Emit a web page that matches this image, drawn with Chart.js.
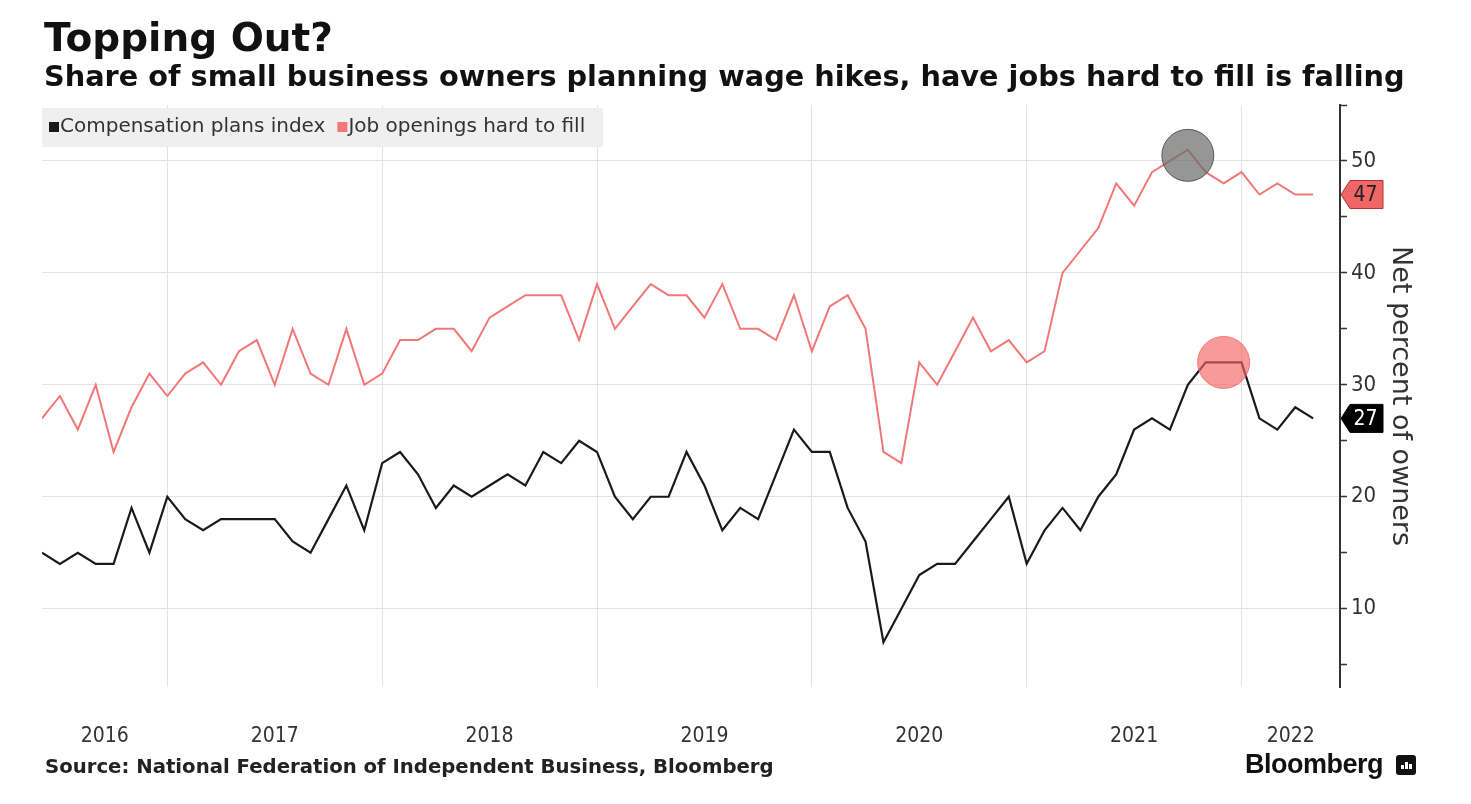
<!DOCTYPE html>
<html><head><meta charset="utf-8">
<script src="https://cdn.jsdelivr.net/npm/chart.js@4/dist/chart.umd.min.js"></script>
<style>
html,body{margin:0;padding:0;background:#fff;}
#wrap{position:relative;width:1471px;height:804px;overflow:hidden;background:#fff;}
canvas{position:absolute;left:0;top:0;}
.t{position:absolute;white-space:nowrap;color:#111;font-family:"DejaVu Sans",sans-serif;font-weight:bold;line-height:1;}
#title{left:44px;top:18px;font-size:39px;}
#sub{left:44px;top:62px;font-size:28.75px;}
#src{left:45px;top:757px;font-size:19.7px;color:#222;}
#bbg{left:1245px;top:751px;font-size:27px;font-family:"Liberation Sans",Arial,sans-serif;color:#111;letter-spacing:-0.5px;}
#icon{position:absolute;left:1396px;top:755px;width:20px;height:20px;background:#111;border-radius:3px;}
#icon i{position:absolute;bottom:6px;width:3px;background:#fff;}
</style>
</head><body>
<div id="wrap">
<canvas id="c" width="1471" height="804"></canvas>
<div class="t" id="title">Topping Out?</div>
<div class="t" id="sub">Share of small business owners planning wage hikes, have jobs hard to fill is falling</div>
<div class="t" id="src">Source: National Federation of Independent Business, Bloomberg</div>
<div class="t" id="bbg">Bloomberg</div>
<div id="icon"><i style="left:5px;height:4px"></i><i style="left:9px;height:7px"></i><i style="left:13px;height:5px"></i></div>
</div>
<script>
const months = [
 "Jun 2016","Jul 2016","Aug 2016","Sep 2016","Oct 2016","Nov 2016","Dec 2016",
 "Jan 2017","Feb 2017","Mar 2017","Apr 2017","May 2017","Jun 2017","Jul 2017","Aug 2017","Sep 2017","Oct 2017","Nov 2017","Dec 2017",
 "Jan 2018","Feb 2018","Mar 2018","Apr 2018","May 2018","Jun 2018","Jul 2018","Aug 2018","Sep 2018","Oct 2018","Nov 2018","Dec 2018",
 "Jan 2019","Feb 2019","Mar 2019","Apr 2019","May 2019","Jun 2019","Jul 2019","Aug 2019","Sep 2019","Oct 2019","Nov 2019","Dec 2019",
 "Jan 2020","Feb 2020","Mar 2020","Apr 2020","May 2020","Jun 2020","Jul 2020","Aug 2020","Sep 2020","Oct 2020","Nov 2020","Dec 2020",
 "Jan 2021","Feb 2021","Mar 2021","Apr 2021","May 2021","Jun 2021","Jul 2021","Aug 2021","Sep 2021","Oct 2021","Nov 2021","Dec 2021",
 "Jan 2022","Feb 2022","Mar 2022","Apr 2022","May 2022"
];
const compensationPlans = [
 15,14,15,14,14,19,15,
 20,18,17,18,18,18,18,16,15,18,21,17,
 23,24,22,19,21,20,21,22,21,24,23,25,
 24,20,18,20,20,24,21,17,19,18,22,26,
 24,24,19,16,7,10,13,14,14,16,18,20,
 14,17,19,17,20,22,26,27,26,30,32,32,
 32,27,26,28,27
];
const hardToFill = [
 27,29,26,30,24,28,31,
 29,31,32,30,33,34,30,35,31,30,35,30,
 31,34,34,35,35,33,36,37,38,38,38,34,
 39,35,37,39,38,38,36,39,35,35,34,38,
 33,37,38,35,24,23,32,30,33,36,33,34,
 32,33,40,42,44,48,46,49,50,51,49,48,
 49,47,48,47,47
];
const seriesNames = ["Compensation plans index","Job openings hard to fill"];
const markerMonths = ["Oct 2021","Dec 2021"];
const markerValues = [50.5, 32];
const yTicks = [5,10,15,20,25,30,35,40,45,50,55];
const yAxisTitle = "Net percent of owners";

const FONT = '"DejaVu Sans Condensed","DejaVu Sans",sans-serif';
const FONT_N = '"DejaVu Sans",sans-serif';
const RED = '#f27777';
const BLACK = '#1a1a1a';

// year boundaries (January) -> gridlines; year labels centred between them
const gridVals = [];
months.forEach((m,i)=>{ if (m.startsWith('Jan')) gridVals.push(i); });
const xMax = months.length + 0.5;
const bounds = [0, ...gridVals, xMax];
const labelVals = [], labelText = {};
for (let k=0;k<bounds.length-1;k++){
  const mid = (bounds[k]+bounds[k+1])/2;
  const i0 = Math.min(Math.ceil(bounds[k]), months.length-1);
  labelVals.push(mid); labelText[mid] = months[i0].slice(-4);
}
const gridSet = new Set(gridVals);
const xTickVals = [...gridVals, ...labelVals].sort((a,b)=>a-b);

const pts = arr => arr.map((v,i)=>({x:i,y:v}));

const overlay = {
  id:'overlay',
  beforeDatasetsDraw(chart){
    const c = chart.ctx; c.save();
    c.fillStyle = '#efefef';
    c.fillRect(42,108,561,39);
    c.font = '20px ' + FONT_N; c.textBaseline='middle';
    let x = 49; const y = 127;
    [[BLACK,seriesNames[0]],[RED,seriesNames[1]]].forEach(([col,txt])=>{
      c.fillStyle = col; c.fillRect(x, y-5, 10, 10);
      c.fillStyle = '#333'; c.fillText(txt, x+11, y);
      x += 11 + c.measureText(txt).width + 12;
    });
    c.restore();
  },
  afterDraw(chart){
    const c = chart.ctx, ys = chart.scales.y, ca = chart.chartArea;
    const tag = (val, fill, stroke, tc) => {
      const y = ys.getPixelForValue(val), x = ca.right + 1, h = 28, tip = 9, w = 33;
      c.save();
      c.beginPath(); c.moveTo(x,y); c.lineTo(x+tip,y-h/2); c.lineTo(x+tip+w,y-h/2);
      c.lineTo(x+tip+w,y+h/2); c.lineTo(x+tip,y+h/2); c.closePath();
      c.fillStyle = fill; c.fill(); c.lineWidth=1; c.strokeStyle = stroke; c.stroke();
      c.fillStyle = tc; c.font = '21px ' + FONT; c.textAlign='center'; c.textBaseline='middle';
      c.fillText(String(val), x+tip+w/2-1, y+1);
      c.restore();
    };
    tag(hardToFill[hardToFill.length-1], '#f06666', '#a33', '#222');
    tag(compensationPlans[compensationPlans.length-1], '#000', '#000', '#fff');
  }
};

new Chart(document.getElementById('c'), {
  type:'line',
  data:{ datasets:[
    { label:'peak-hard', data:[{x:months.indexOf(markerMonths[0]), y:markerValues[0]}], showLine:false,
      pointRadius:26, pointHoverRadius:26, backgroundColor:'rgba(110,110,110,0.72)', borderColor:'rgba(70,70,70,0.85)', borderWidth:1, order:1 },
    { label:'peak-comp', data:[{x:months.indexOf(markerMonths[1]), y:markerValues[1]}], showLine:false,
      pointRadius:26, pointHoverRadius:26, backgroundColor:'rgba(245,100,100,0.65)', borderColor:'rgba(240,100,100,0.8)', borderWidth:1, order:1 },
    { label:seriesNames[0], data:pts(compensationPlans), borderColor:BLACK, borderWidth:2.2, pointRadius:0, tension:0, order:2 },
    { label:seriesNames[1], data:pts(hardToFill), borderColor:RED, borderWidth:2, pointRadius:0, tension:0, order:3 }
  ]},
  options:{
    responsive:false, animation:false, devicePixelRatio:1,
    layout:{ padding:{left:42, top:105, right:0, bottom:0}, autoPadding:false },
    plugins:{ legend:{display:false}, tooltip:{enabled:false}, title:{display:false} },
    scales:{
      x:{ type:'linear', position:'bottom', min:0, max:xMax,
        afterBuildTicks: s => { s.ticks = xTickVals.map(v=>({value:v})); },
        ticks:{ autoSkip:false, maxRotation:0, padding:37, color:'#333', font:{family:FONT, size:21},
          callback:(v)=> labelText[v] !== undefined ? labelText[v] : '' },
        grid:{ drawTicks:false, lineWidth:1, color: ctx => (ctx.tick && gridSet.has(ctx.tick.value)) ? '#e3e3e3' : 'rgba(0,0,0,0)' },
        border:{ display:false },
        afterFit: s => { s.height = 117; }
      },
      y:{ type:'linear', position:'right', min:3, max:55,
        afterBuildTicks: s => { s.ticks = yTicks.map(v=>({value:v})); },
        ticks:{ padding:4, color:'#333', font:{family:FONT, size:22}, callback: v => (v % 10 === 0) ? String(v) : '' },
        grid:{ drawTicks:true, tickLength:7, tickColor:'#333', tickWidth:1.5, lineWidth:1,
          color: ctx => (ctx.tick && ctx.tick.value % 10 === 0) ? '#e3e3e3' : 'rgba(0,0,0,0)' },
        border:{ display:true, color:'#333', width:2 },
        title:{ display:true, text:yAxisTitle, color:'#333', font:{family:FONT_N, size:27}, padding:{top:55, bottom:0} },
        afterFit: s => { s.width = 131; }
      }
    }
  },
  plugins:[overlay]
});
</script>
</body></html>
